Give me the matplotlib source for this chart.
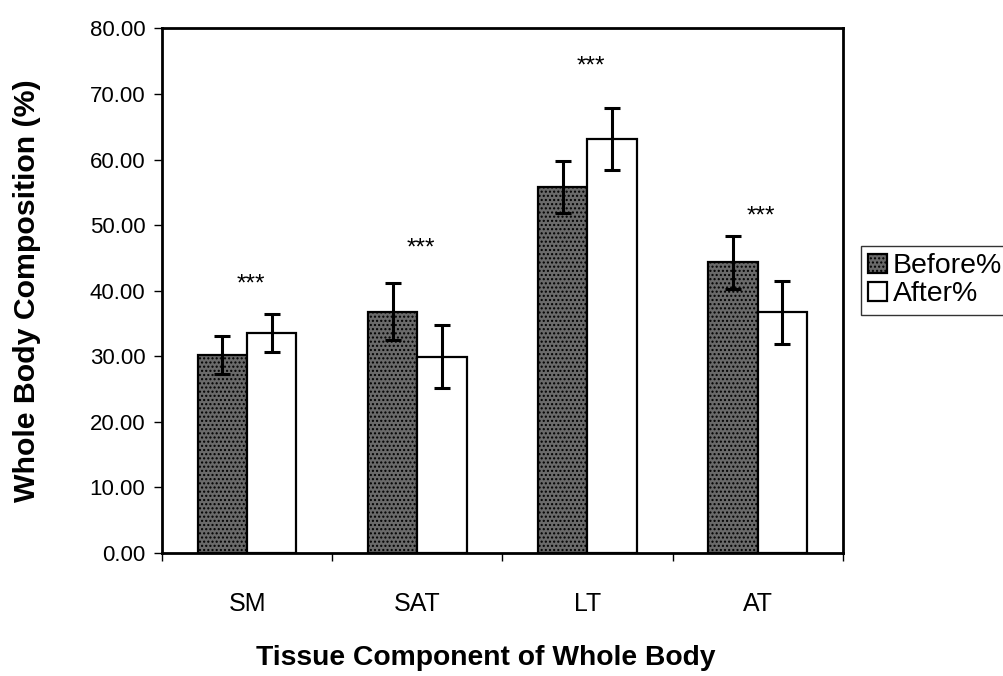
import numpy as np
import matplotlib
matplotlib.use('Agg')
import matplotlib.pyplot as plt

plt.rcParams['font.family'] = ['Liberation Sans', 'DejaVu Sans']
plt.rcParams['hatch.color'] = '#3a3a3a'

categories = ['SM', 'SAT', 'LT', 'AT']
before = [30.2, 36.8, 55.8, 44.3]
after = [33.6, 29.9, 63.1, 36.7]
before_err = [2.9, 4.3, 4.0, 4.0]
after_err = [2.9, 4.8, 4.75, 4.85]
star_y = [40.0, 45.5, 73.3, 50.4]
yticks = [0, 10, 20, 30, 40, 50, 60, 70, 80]

fig = plt.figure(figsize=(10.04, 6.76), dpi=100)
ax = fig.add_axes([0.1614, 0.182, 0.678, 0.776])

x = np.arange(len(categories)) + 0.5
w = 0.29
ekw = dict(ecolor='black', elinewidth=2.2, capsize=5.5, capthick=2.2)
ax.bar(x - w / 2, before, w, yerr=before_err, color='#6a6a6a', edgecolor='black',
       linewidth=1.6, hatch='....', label='Before%', error_kw=ekw, zorder=2)
ax.bar(x + w / 2, after, w, yerr=after_err, color='white', edgecolor='black',
       linewidth=1.6, label='After%', error_kw=ekw, zorder=2)

# significance markers
for xi, yi in zip(x, star_y):
    ax.text(xi + 0.02, yi, '***', ha='center', va='baseline', fontsize=17.5)

ax.set_xlim(0, len(categories))
ax.set_ylim(0, 80)
ax.set_yticks(yticks)
ax.set_yticklabels(['%.2f' % v for v in yticks], fontsize=16)
ax.set_xticks(np.arange(len(categories) + 1))
ax.set_xticklabels([])
ax.set_xticks(x, minor=True)
ax.set_xticklabels(categories, minor=True, fontsize=18)
ax.tick_params(axis='x', which='minor', length=0, pad=28)
ax.tick_params(axis='x', which='major', direction='out', length=6, width=1)
ax.tick_params(axis='y', direction='out', length=6, width=1, pad=6)
for s in ax.spines.values():
    s.set_linewidth(2)
    s.set_color('black')

ax.set_xlabel('Tissue Component of Whole Body', fontsize=20.3, fontweight='bold')
ax.xaxis.set_label_coords(0.475, -0.175)
ax.set_ylabel('Whole Body Composition (%)', fontsize=21.8, fontweight='bold')
ax.yaxis.set_label_coords(-0.178, 0.5)

leg = ax.legend(loc='upper left', bbox_to_anchor=(1.027, 0.585), frameon=True, fancybox=False,
                edgecolor='black', fontsize=20.5, handlelength=0.65, handleheight=0.65,
                handletextpad=0.2, borderpad=0.25, labelspacing=0.08, borderaxespad=0)
leg.get_frame().set_linewidth(1)

fig.savefig('out.png', dpi=100)
